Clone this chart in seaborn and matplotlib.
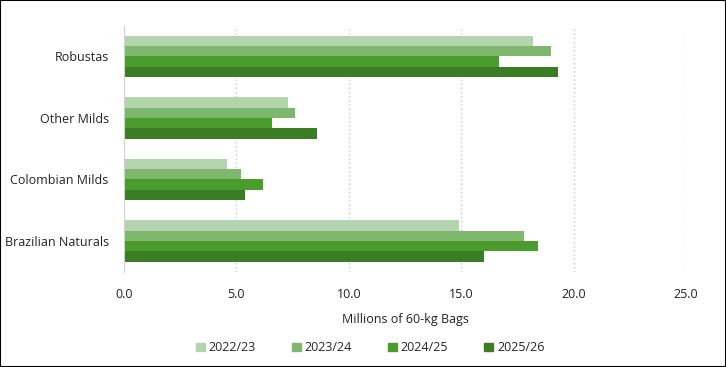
import pandas as pd
import matplotlib.pyplot as plt
import seaborn as sns
from matplotlib.patches import Rectangle

categories = ['Robustas', 'Other Milds', 'Colombian Milds', 'Brazilian Naturals']
seasons = ['2022/23', '2023/24', '2024/25', '2025/26']
v_2022 = [18.2, 7.3, 4.6, 14.9]
v_2023 = [19.0, 7.6, 5.2, 17.8]
v_2024 = [16.7, 6.6, 6.2, 18.4]
v_2025 = [19.3, 8.6, 5.4, 16.0]
colors = ['#b4d4ad', '#7fb76f', '#4a9c2d', '#3b7d24']

rows = []
for season, vals in zip(seasons, [v_2022, v_2023, v_2024, v_2025]):
    for cat, v in zip(categories, vals):
        rows.append({'cat': cat, 'season': season, 'value': v})
df = pd.DataFrame(rows)

sns.set_style('white')
plt.rcParams['font.family'] = ['Open Sans', 'DejaVu Sans']

fig = plt.figure(figsize=(7.26, 3.67), dpi=100)
ax = fig.add_axes([0.1708, 0.2594, 0.7741, 0.671])

sns.barplot(data=df, x='value', y='cat', hue='season', order=categories,
            hue_order=seasons, palette=colors, orient='h', width=0.67,
            linewidth=0, saturation=1, ax=ax)

ax.set_xlim(0, 25)
ax.set_xticks([0, 5, 10, 15, 20, 25])
ax.set_xticklabels(['0.0', '5.0', '10.0', '15.0', '20.0', '25.0'])
for x in [5, 10, 15, 20, 25]:
    ax.axvline(x, color='#c8c8c8', linestyle=(0, (1, 2)), linewidth=1, zorder=0)
ax.tick_params(axis='x', labelsize=9, colors='#222222', length=0, pad=12)
ax.tick_params(axis='y', labelsize=9, colors='#222222', length=0, pad=11)
ax.set_xlabel('Millions of 60-kg Bags', fontsize=9, color='#222222', labelpad=8)
ax.set_ylabel('')
for s in ['top', 'right', 'bottom']:
    ax.spines[s].set_visible(False)
ax.spines['left'].set_color('#d0d0d0')

ax.get_legend().remove()
handles = [Rectangle((0, 0), 1, 1, color=c) for c in colors]
fig.legend(handles, seasons, loc='center', bbox_to_anchor=(0.51, 0.052), ncol=4,
           frameon=False, fontsize=9, handlelength=0.7, handleheight=0.7,
           handletextpad=0.3, columnspacing=2.9)

fig.patches.append(Rectangle((0, 0), 1, 1, transform=fig.transFigure,
                             fill=False, edgecolor='black', linewidth=1.5))

fig.savefig('out.png', dpi=100)
